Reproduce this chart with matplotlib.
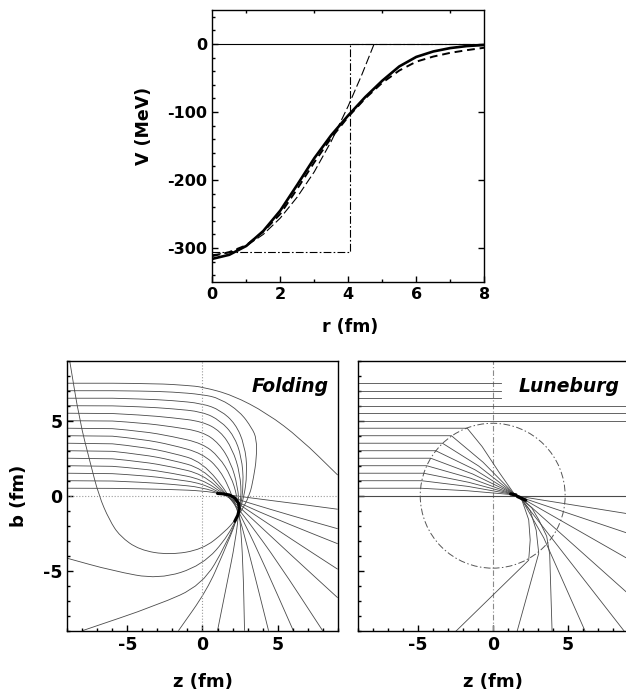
import matplotlib
matplotlib.use('Agg')
import matplotlib.pyplot as plt
from matplotlib.patches import Circle, PathPatch
from matplotlib.path import Path
from matplotlib.ticker import MultipleLocator

plt.rcParams['font.family'] = ['DejaVu Sans']
plt.rcParams['font.weight'] = 'bold'
plt.rcParams['axes.unicode_minus'] = False

# ---- potentials V(r) ----
r_fold = [0, 0.5, 1, 1.5, 2, 2.5, 3, 3.5, 4, 4.5, 5, 5.5, 6, 6.5, 7, 7.5, 8]
V_fold = [-316, -310, -297, -275, -245, -207, -168, -134, -105, -78, -54, -33, -19, -11, -6, -3, -1.5]
r_dash = [0, 0.5, 1, 1.5, 2, 2.5, 3, 3.5, 4, 4.5, 5, 5.5, 6, 6.5, 7, 7.5, 8]
V_dash = [-312, -306, -296, -276, -250, -213, -174, -138, -107, -80, -57, -39, -26, -18.5, -13, -9, -5.5]
r_lune = [0, 0.5, 1, 1.5, 2, 2.5, 3, 3.5, 4, 4.4, 4.76]
V_lune = [-310, -307, -297, -280, -256, -225, -188, -143, -91, -45, 0]
r_well = [0, 4.05, 4.05, 8]
V_well = [-306, -306, 0, 0]

# ---- trajectories, folding potential (one list per ray, b_in = 0.5 ... 7.5) ----
fold_z = [
    [-9, -6, -4, -2, 0, 1.3, 3, 6, 9],
    [-9, -6, -4, -2, 0, 1.35, 3, 6, 9],
    [-9, -6, -4, -2, 0, 1.4, 3, 6, 9],
    [-9, -6, -4, -2, 0, 1.5, 3, 6, 9],
    [-9, -6, -4, -2, 0, 1.6, 3, 6, 9],
    [-9, -6, -4, -2, 0, 1.7, 3, 5, 8],
    [-9, -6, -4, -2, 0, 1.85, 2.8, 4.2, 6.05],
    [-9, -6, -4, -2, 0, 1.2, 2.0, 2.6, 3.4, 4.4],
    [-9, -6, -4, -2, 0, 1.1, 1.9, 2.3, 2.5, 2.7, 2.8],
    [-9, -6, -4, -2, 0, 1.1, 1.9, 2.35, 2.45, 2.2, 1.6, 1.0],
    [-9, -6, -4, -2, 0, 1.2, 2.0, 2.5, 2.6, 2.3, 1.4, 0.3, -1.6],
    [-9, -6, -4, -2, 0, 1.2, 2.1, 2.6, 2.75, 2.5, 1.6, 0.0, -3.0, -8.0],
    [-9, -6, -4, -2, 0, 1.2, 2.2, 2.8, 3.0, 2.7, 1.8, 0.0, -2.9, -6.0, -9.0],
    [-9, -6, -4, -2, 0, 1.15, 2.5, 3.3, 3.6, 3.6, 3.4, 3.15, 2.6, 2.2, 1.5, 0.0,
     -2.2, -4.2, -5.5, -6.2, -6.9, -7.5, -8.18, -8.85],
    [-9, -6, -3, -1, 0, 2, 4.3, 6.5, 9],
]
fold_b = [
    [0.5, 0.49, 0.46, 0.41, 0.33, 0.12, -0.12, -0.5, -0.9],
    [1.0, 0.98, 0.9, 0.76, 0.56, 0.08, -0.45, -1.35, -2.2],
    [1.5, 1.47, 1.35, 1.12, 0.82, 0.06, -0.75, -2.0, -3.2],
    [2.0, 1.96, 1.8, 1.5, 1.09, 0.05, -0.95, -2.95, -4.9],
    [2.5, 2.46, 2.27, 1.92, 1.44, 0.03, -1.25, -4.05, -6.8],
    [3.0, 2.96, 2.75, 2.37, 1.82, 0.0, -1.65, -4.4, -9.0],
    [3.5, 3.46, 3.25, 2.85, 2.27, -0.05, -1.8, -4.8, -9.0],
    [4.0, 3.97, 3.77, 3.38, 2.82, 1.7, 0.0, -1.9, -5.0, -9.0],
    [4.5, 4.47, 4.3, 3.95, 3.49, 2.6, 1.3, 0.0, -1.5, -4.5, -9.0],
    [5.0, 4.98, 4.85, 4.6, 4.27, 3.5, 2.2, 0.6, -0.8, -3.0, -6.0, -9.0],
    [5.5, 5.48, 5.38, 5.2, 4.95, 4.3, 3.1, 1.5, -0.2, -1.6, -3.8, -6.3, -9.0],
    [6.0, 5.99, 5.93, 5.8, 5.6, 5.0, 4.0, 2.6, 0.8, -1.0, -3.2, -5.95, -7.3, -9.0],
    [6.5, 6.5, 6.45, 6.35, 6.15, 5.7, 4.8, 3.4, 1.6, -0.5, -2.6, -4.65, -5.58, -5.0, -4.17],
    [7.0, 7.0, 6.98, 6.92, 6.75, 6.49, 5.6, 4.5, 3.8, 2.5, 1.2, 0.05, -1.0, -1.6, -2.4, -3.58,
     -3.95, -3.62, -2.7, -1.62, 0.0, 2.3, 5.0, 9.05],
    [7.5, 7.5, 7.48, 7.35, 7.25, 6.71, 5.5, 3.83, 1.38],
]
fold_caustic_z = [1.0, 1.4, 1.8, 2.15, 2.4, 2.45, 2.35, 2.15]
fold_caustic_b = [0.15, 0.12, 0.05, -0.15, -0.5, -0.9, -1.3, -1.7]

# ---- trajectories, Luneburg potential (b_in = 0.5 ... 4.5 pass through the lens) ----
lune_z = [
    [-9, -4.8, -1.68, 1.45, 2.0, 9],
    [-9, -4.73, -1.64, 1.45, 2.0, 9],
    [-9, -4.6, -1.58, 1.45, 2.0, 9],
    [-9, -4.4, -1.48, 1.45, 2.0, 9],
    [-9, -4.13, -1.34, 1.45, 1.95, 8.8],
    [-9, -3.8, -1.18, 1.45, 1.93, 3.4, 6.18],
    [-9, -3.35, -0.95, 1.45, 1.93, 2.6, 3.07, 3.6, 3.8, 3.96],
    [-9, -2.75, -0.65, 1.45, 1.93, 2.5, 2.9, 3.07, 1.62],
    [-9, -1.7, -0.7, 0.4, 1.45, 1.93, 2.4, 2.5, 2.4, -2.49],
]
lune_b = [
    [0.5, 0.5, 0.33, 0.06, -0.08, -1.2],
    [1.0, 1.0, 0.62, 0.07, -0.15, -2.5],
    [1.5, 1.5, 0.89, 0.08, -0.2, -4.2],
    [2.0, 2.0, 1.17, 0.08, -0.25, -6.5],
    [2.5, 2.5, 1.45, 0.09, -0.28, -9.07],
    [3.0, 3.0, 1.73, 0.09, -0.24, -2.8, -9.07],
    [3.5, 3.5, 1.99, 0.1, -0.24, -0.8, -1.6, -2.7, -3.9, -9.07],
    [4.0, 4.0, 2.24, 0.1, -0.24, -1.0, -2.3, -3.84, -9.07],
    [4.5, 4.5, 3.27, 1.6, 0.1, -0.24, -1.6, -2.95, -4.3, -9.07],
]
lune_free_b = [5.0, 5.5, 6.0]      # pass the lens untouched
lune_cut_b = [6.5, 7.0, 7.5]       # drawn only up to z_cut
lune_z_cut = 0.58
lune_radius = 4.83
lune_caustic_z = [[1.2, 1.55], [1.65, 2.2]]
lune_caustic_b = [[0.12, 0.05], [-0.05, -0.3]]

ray_color = '#4a4a4a'
ray_lw = 0.6


def ray_patch(zs, bs, **kw):
    # read points used as quadratic Bezier control points (corner cutting),
    # first segment kept straight
    pts = list(zip(zs, bs))
    verts = [pts[0], pts[1]]
    codes = [Path.MOVETO, Path.LINETO]
    for i in range(2, len(pts) - 1):
        nxt = pts[i + 1]
        end = ((pts[i][0] + nxt[0]) / 2, (pts[i][1] + nxt[1]) / 2)
        verts += [pts[i], end]
        codes += [Path.CURVE3, Path.CURVE3]
    verts.append(pts[-1])
    codes.append(Path.LINETO)
    return PathPatch(Path(verts, codes), fill=False, **kw)


fig = plt.figure(figsize=(6.26, 6.98), dpi=100)

# ---------------- upper panel ----------------
ax = fig.add_axes([0.3391, 0.5960, 0.4345, 0.3897])
ax.axhline(0, color='black', lw=0.8)
ax.plot(r_well, V_well, color='black', lw=0.8, dashes=[7, 2, 1.5, 2])
ax.plot(r_lune, V_lune, color='black', lw=0.8, dashes=[8, 3])
ax.plot(r_dash, V_dash, color='black', lw=1.4, dashes=[4, 2.5])
ax.plot(r_fold, V_fold, color='black', lw=1.9)
ax.set_xlim(0, 8)
ax.set_ylim(-350, 50)
ax.xaxis.set_major_locator(MultipleLocator(2))
ax.xaxis.set_minor_locator(MultipleLocator(1))
ax.yaxis.set_major_locator(MultipleLocator(100))
ax.yaxis.set_minor_locator(MultipleLocator(20))
ax.tick_params(which='both', direction='in', width=1, labelsize=11.5)
ax.tick_params(which='major', length=4, right=True)
ax.tick_params(which='minor', length=2.5, top=True)
ax.set_xlabel('r (fm)', fontsize=12.5, fontweight='bold')
ax.set_ylabel('V (MeV)', fontsize=12.5, fontweight='bold')
ax.xaxis.set_label_coords(0.506, -0.132)
ax.yaxis.set_label_coords(-0.218, 0.574)
for s in ax.spines.values():
    s.set_linewidth(1.0)


def style_bottom(a):
    a.set_xlim(-9, 9)
    a.set_ylim(-9, 9)
    a.xaxis.set_major_locator(MultipleLocator(5))
    a.xaxis.set_minor_locator(MultipleLocator(1))
    a.yaxis.set_major_locator(MultipleLocator(5))
    a.yaxis.set_minor_locator(MultipleLocator(1))
    a.tick_params(which='both', direction='in', width=1, labelsize=12.5)
    a.tick_params(which='major', length=4.5)
    a.tick_params(which='minor', length=2.5)
    a.set_xlabel('z (fm)', fontsize=13, fontweight='bold')
    a.xaxis.set_label_coords(0.5, -0.155)
    for s in a.spines.values():
        s.set_linewidth(1.0)


# ---------------- Folding panel ----------------
ax1 = fig.add_axes([0.1075, 0.0964, 0.4319, 0.3868])
ax1.axvline(0, color='#9a9a9a', lw=0.8, ls=':')
ax1.axhline(0, color='#9a9a9a', lw=0.8, ls=':')
for zz, bb in zip(fold_z, fold_b):
    ax1.add_patch(ray_patch(zz, bb, edgecolor=ray_color, lw=ray_lw))
ax1.plot(fold_caustic_z, fold_caustic_b, color='black', lw=2.2, solid_capstyle='round')
ax1.text(0.967, 0.883, 'Folding', transform=ax1.transAxes, ha='right', va='baseline',
         fontsize=13.5, fontweight='bold', fontstyle='italic')
style_bottom(ax1)
ax1.set_ylabel('b (fm)', fontsize=13, fontweight='bold')
ax1.yaxis.set_label_coords(-0.146, 0.5)

# ---------------- Luneburg panel ----------------
ax2 = fig.add_axes([0.5714, 0.0964, 0.4313, 0.3868])
ax2.axvline(0, color='#8a8a8a', lw=0.8, dashes=[5, 2, 1, 2])
ax2.axhline(0, color=ray_color, lw=0.8)
ax2.add_patch(Circle((0, 0), lune_radius, fill=False, edgecolor='#555555', lw=0.7,
                     linestyle=(0, (7, 2.5, 1.5, 2.5))))
for bb in lune_free_b:
    ax2.plot([-9, 9], [bb, bb], color=ray_color, lw=ray_lw)
for bb in lune_cut_b:
    ax2.plot([-9, lune_z_cut], [bb, bb], color=ray_color, lw=ray_lw)
for zz, bb in zip(lune_z, lune_b):
    ax2.plot(zz, bb, color=ray_color, lw=ray_lw)
for zz, bb in zip(lune_caustic_z, lune_caustic_b):
    ax2.plot(zz, bb, color='black', lw=2.4, solid_capstyle='round')
ax2.text(0.971, 0.883, 'Luneburg', transform=ax2.transAxes, ha='right', va='baseline',
         fontsize=13.5, fontweight='bold', fontstyle='italic')
style_bottom(ax2)
ax2.tick_params(labelleft=False)

fig.savefig('out.png', dpi=100)
